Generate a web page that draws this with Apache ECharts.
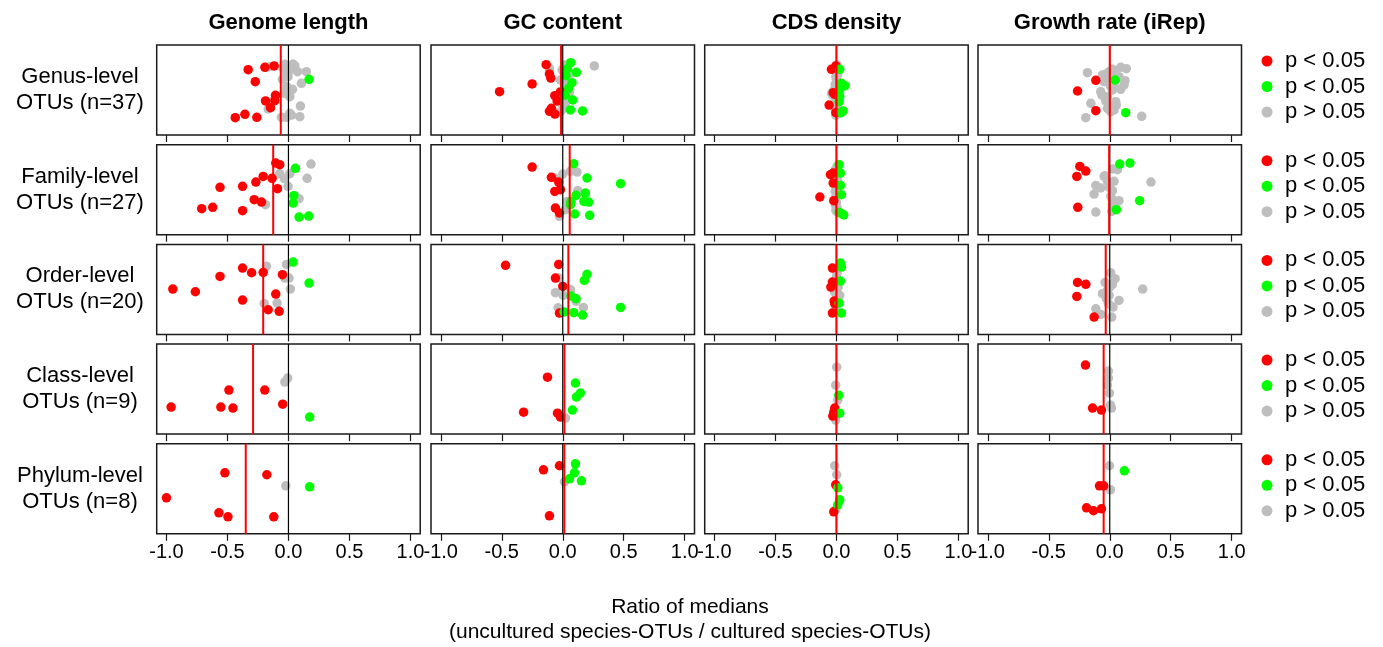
<!DOCTYPE html>
<html>
<head>
<meta charset="utf-8">
<script src="https://cdn.jsdelivr.net/npm/echarts@6/dist/echarts.min.js"></script>
<style>html,body{margin:0;padding:0;background:#fff;}#c{width:1383px;height:647px;}</style>
</head>
<body>
<div id="c"></div>
<script>
const columns = ['Genome length', 'GC content', 'CDS density', 'Growth rate (iRep)'];
const rowLabels = ['Genus-level\nOTUs (n=37)', 'Family-level\nOTUs (n=27)', 'Order-level\nOTUs (n=20)', 'Class-level\nOTUs (n=9)', 'Phylum-level\nOTUs (n=8)'];
const xTicks = [-1, -0.5, 0, 0.5, 1];
const legendLabels = ['p < 0.05', 'p < 0.05', 'p > 0.05'];
const xTitle = ['Ratio of medians', '(uncultured species-OTUs / cultured species-OTUs)'];

// medians (red vertical line) per row, per column
const medians = [
  [-0.063, -0.014, 0.0, 0.0],
  [-0.125, 0.057, 0.0, -0.005],
  [-0.207, 0.046, 0.0, -0.033],
  [-0.29, 0.014, 0.0, -0.05],
  [-0.35, 0.013, 0.0, -0.05]
];

// points: [ratio, jitter] ; each row array has 4 columns
const genusRed = [
  [[-0.33,0.726],[-0.193,0.752],[-0.117,0.767],[-0.272,0.593],[-0.106,0.441],[-0.188,0.378],[-0.112,0.381],[-0.147,0.304],[-0.436,0.193],[-0.357,0.23],[-0.259,0.196]],
  [[-0.136,0.781],[-0.109,0.678],[-0.098,0.633],[-0.251,0.567],[-0.518,0.481],[-0.019,0.478],[-0.065,0.437],[-0.046,0.378],[-0.093,0.296],[-0.109,0.263],[-0.065,0.233]],
  [[-0.041,0.73],[-0.005,0.767],[-0.014,0.452],[-0.027,0.47],[-0.06,0.333],[-0.005,0.248]],
  [[-0.114,0.607],[-0.264,0.489],[-0.114,0.27]]
];
const genusGreen = [
  [[0.169,0.619]],
  [[0.065,0.804],[0.038,0.737],[0.112,0.696],[0.027,0.659],[0.076,0.581],[0.049,0.519],[0.022,0.444],[0.082,0.389],[0.063,0.278],[0.163,0.267]],
  [[0.027,0.73],[0.041,0.574],[0.071,0.548],[0.027,0.5],[0.022,0.37],[0.054,0.267],[0.027,0.426],[0.038,0.248]],
  [[0.044,0.611],[0.131,0.248]]
];
const genusGray = [
  [[-0.03,0.785],[0.038,0.789],[0.052,0.767],[0.025,0.76],[0.011,0.722],[0.074,0.704],[0.147,0.704],[-0.016,0.685],[-0.049,0.619],[0.106,0.574],[-0.016,0.537],[0.033,0.507],[-0.016,0.481],[0.011,0.426],[-0.166,0.289],[0.098,0.322],[0.011,0.241],[-0.016,0.196],[-0.057,0.196],[0.093,0.204],[-0.153,0.759],[-0.044,0.741],[-0.003,0.648],[-0.03,0.463],[0.025,0.222]],
  [[-0.109,0.737],[0.016,0.778],[0.071,0.685],[0.259,0.767],[0.016,0.593],[0.027,0.556],[0.054,0.47],[0.008,0.296],[-0.019,0.259],[-0.005,0.722],[0.016,0.537],[0.035,0.5],[-0.005,0.333],[0.022,0.352],[0.008,0.63],[-0.019,0.611]],
  [[0.005,0.78],[0.01,0.7],[-0.005,0.65],[0.0,0.62],[0.005,0.6],[-0.01,0.56],[0.015,0.53],[-0.02,0.5],[-0.04,0.46],[-0.03,0.44],[0.01,0.42],[0.0,0.4],[0.02,0.38],[-0.01,0.35],[0.005,0.32],[-0.015,0.3],[0.01,0.28],[0.0,0.26],[0.02,0.24],[-0.005,0.22],[0.012,0.68],[-0.008,0.72],[0.015,0.45]],
  [[-0.183,0.693],[-0.06,0.667],[-0.033,0.674],[0.022,0.685],[0.049,0.667],[0.09,0.752],[0.136,0.737],[-0.005,0.704],[0.125,0.604],[0.117,0.556],[0.09,0.507],[0.022,0.5],[-0.074,0.481],[-0.065,0.444],[-0.033,0.378],[0.049,0.37],[-0.155,0.352],[-0.005,0.315],[0.035,0.278],[-0.019,0.296],[-0.196,0.193],[0.262,0.207],[0.016,0.611],[-0.033,0.63],[0.035,0.574],[0.008,0.537],[0.054,0.333],[0.008,0.259],[-0.046,0.593],[0.076,0.648],[0.022,0.73],[-0.019,0.426]]
];

const familyRed = [
  [[-0.104,0.796],[-0.071,0.778],[-0.207,0.648],[-0.134,0.626],[-0.267,0.585],[-0.376,0.537],[-0.561,0.526],[-0.09,0.511],[-0.281,0.389],[-0.221,0.363],[-0.711,0.289],[-0.621,0.304],[-0.376,0.267]],
  [[-0.251,0.752],[-0.093,0.637],[-0.033,0.585],[-0.019,0.5],[-0.065,0.481],[-0.06,0.296],[-0.027,0.241]],
  [[-0.049,0.667],[-0.027,0.685],[-0.136,0.419],[-0.022,0.378],[-0.027,0.574]],
  [[-0.245,0.759],[-0.196,0.707],[-0.27,0.648],[-0.262,0.304]]
];
const familyGreen = [
  [[0.057,0.737],[0.044,0.433],[0.038,0.352],[0.087,0.196],[0.166,0.207]],
  [[0.09,0.789],[0.199,0.63],[0.474,0.567],[0.185,0.463],[0.109,0.437],[0.068,0.37],[0.174,0.37],[0.213,0.363],[0.063,0.333],[0.098,0.23],[0.221,0.215]],
  [[0.022,0.778],[0.033,0.685],[0.033,0.548],[0.041,0.444],[0.041,0.233],[0.06,0.219],[0.022,0.248]],
  [[0.082,0.785],[0.166,0.796],[0.245,0.378],[0.054,0.278]]
];
const familyGray = [
  [[0.185,0.785],[-0.071,0.678],[0.011,0.678],[-0.033,0.622],[0.153,0.626],[-0.003,0.537],[0.054,0.433],[0.087,0.4],[-0.188,0.333]],
  [[0.0,0.674],[0.063,0.704],[0.117,0.696],[-0.065,0.63],[0.123,0.489],[0.035,0.37],[0.022,0.278],[-0.027,0.204],[0.049,0.352]],
  [[0.005,0.76],[-0.01,0.72],[0.0,0.65],[-0.015,0.62],[0.01,0.6],[-0.005,0.55],[0.0,0.52],[-0.01,0.48],[0.005,0.46],[-0.005,0.42],[0.0,0.36],[-0.01,0.33],[0.005,0.3],[-0.005,0.27],[0.01,0.25]],
  [[-0.038,0.656],[0.022,0.73],[0.063,0.722],[0.035,0.593],[-0.114,0.548],[-0.074,0.519],[-0.005,0.526],[0.022,0.489],[-0.128,0.452],[0.338,0.585],[0.035,0.378],[0.076,0.378],[0.022,0.333],[-0.114,0.252],[0.016,0.259],[0.049,0.296],[-0.019,0.593],[-0.046,0.648],[0.008,0.426]]
];

const orderRed = [
  [[-0.376,0.737],[-0.302,0.685],[-0.207,0.689],[-0.561,0.644],[-0.049,0.663],[-0.948,0.504],[-0.763,0.474],[-0.104,0.448],[-0.376,0.381],[-0.166,0.274],[-0.076,0.256]],
  [[-0.469,0.767],[-0.033,0.778],[-0.06,0.626],[0.0,0.533],[-0.027,0.237]],
  [[-0.033,0.737],[-0.033,0.581],[-0.046,0.526],[-0.019,0.37],[-0.014,0.341],[-0.033,0.237]],
  [[-0.264,0.578],[-0.196,0.556],[-0.27,0.422],[-0.128,0.193]]
];
const orderGreen = [
  [[0.038,0.804],[0.169,0.57]],
  [[0.199,0.667],[0.177,0.6],[0.068,0.426],[0.109,0.396],[0.474,0.3],[0.09,0.241],[0.163,0.215],[0.011,0.248]],
  [[0.033,0.793],[0.041,0.748],[0.033,0.593],[0.022,0.348],[0.041,0.237]],
  []
];
const orderGray = [
  [[-0.18,0.756],[-0.016,0.778],[-0.03,0.626],[0.005,0.626],[0.016,0.504],[-0.199,0.341],[-0.093,0.348]],
  [[-0.033,0.626],[0.065,0.496],[-0.06,0.463],[0.003,0.433],[0.109,0.367],[0.169,0.3],[-0.038,0.296]],
  [[0.005,0.674],[0.027,0.433],[0.0,0.637],[-0.014,0.47],[0.014,0.396],[-0.005,0.304],[-0.022,0.563],[0.014,0.526],[0.0,0.711]],
  [[0.008,0.685],[0.044,0.619],[-0.038,0.578],[0.022,0.556],[0.0,0.526],[0.27,0.504],[-0.06,0.452],[-0.005,0.433],[0.076,0.378],[-0.011,0.341],[0.027,0.304],[-0.114,0.285],[-0.074,0.222],[0.016,0.193],[-0.019,0.489],[-0.027,0.396]]
];

const classRed = [
  [[-0.962,0.3],[-0.554,0.3],[-0.455,0.289],[-0.488,0.489],[-0.194,0.489],[-0.047,0.333]],
  [[-0.125,0.633],[-0.321,0.244],[-0.043,0.233],[-0.019,0.189]],
  [[-0.014,0.289],[-0.03,0.2],[-0.022,0.244]],
  [[-0.199,0.767],[-0.141,0.289],[-0.068,0.267]]
];
const classGreen = [
  [[0.174,0.189]],
  [[0.104,0.567],[0.145,0.456],[0.112,0.411],[0.079,0.267]],
  [[0.019,0.433],[0.027,0.233]],
  []
];
const classGray = [
  [[-0.006,0.622],[-0.03,0.578]],
  [[0.022,0.178]],
  [[0.002,0.744],[-0.006,0.544],[0.011,0.378],[-0.006,0.156]],
  [[-0.011,0.7],[-0.011,0.622],[-0.002,0.456],[0.006,0.322],[0.014,0.289],[-0.019,0.544]]
];

const phylumRed = [
  [[-1.0,0.4],[-0.521,0.678],[-0.57,0.233],[-0.496,0.189],[-0.177,0.656],[-0.12,0.189]],
  [[-0.027,0.756],[-0.158,0.711],[-0.109,0.2]],
  [[-0.022,0.244],[-0.006,0.544]],
  [[-0.084,0.533],[-0.19,0.289],[-0.133,0.256],[-0.068,0.278],[-0.05,0.533]]
];
const phylumGreen = [
  [[0.174,0.522]],
  [[0.104,0.778],[0.096,0.678],[0.153,0.589],[0.055,0.611]],
  [[0.011,0.511],[0.027,0.378],[0.011,0.322]],
  [[0.12,0.7]]
];
const phylumGray = [
  [[-0.022,0.533]],
  [[0.014,0.578]],
  [[-0.014,0.756],[0.002,0.656],[-0.006,0.267]],
  [[-0.002,0.756],[0.006,0.489]]
];

const redRows = [genusRed, familyRed, orderRed, classRed, phylumRed];
const greenRows = [genusGreen, familyGreen, orderGreen, classGreen, phylumGreen];
const grayRows = [genusGray, familyGray, orderGray, classGray, phylumGray];

// ---- layout ----
const colLeft = [156.7, 431, 704.7, 978];
const rowTop = [45, 144.7, 244.4, 344.1, 443.8];
const gridW = 263.5, gridH = 90;
const FONT = '"Liberation Sans", Arial, sans-serif';
const COLORS = { red: '#FF0000', green: '#00FF00', gray: '#BEBEBE' };

const grids = [], xAxes = [], yAxes = [], series = [], graphics = [];
for (let r = 0; r < 5; r++) {
  for (let c = 0; c < 4; c++) {
    const i = r * 4 + c;
    grids.push({ left: colLeft[c], top: rowTop[r], width: gridW, height: gridH, show: true, borderColor: '#1a1a1a', borderWidth: 1.5, backgroundColor: 'transparent', containLabel: false });
    xAxes.push({
      type: 'value', gridIndex: i, min: -1.08, max: 1.08,
      axisLine: { show: false },
      splitLine: { show: false },
      axisTick: { show: true, inside: false, length: 7, customValues: xTicks, lineStyle: { color: '#1a1a1a', width: 1.2 } },
      axisLabel: { show: r === 4, customValues: xTicks, margin: 9, color: '#000', fontSize: 20, fontFamily: FONT, formatter: v => v.toFixed(1) }
    });
    yAxes.push({ type: 'value', gridIndex: i, min: 0, max: 1, show: false, splitLine: { show: false } });
    const base = { type: 'scatter', xAxisIndex: i, yAxisIndex: i, symbol: 'circle', symbolSize: 9.5, silent: true, animation: false };
    series.push(Object.assign({}, base, { data: grayRows[r][c], itemStyle: { color: COLORS.gray, opacity: 1 }, z: 2 }));
    series.push(Object.assign({}, base, { data: redRows[r][c], itemStyle: { color: COLORS.red, opacity: 1 }, z: 3 }));
    series.push(Object.assign({}, base, { data: greenRows[r][c], itemStyle: { color: COLORS.green, opacity: 1 }, z: 3 }));
    series.push({ type: 'line', xAxisIndex: i, yAxisIndex: i, data: [[0, 0], [0, 1]], symbol: 'none', lineStyle: { color: '#000', width: 1.2 }, z: 4, silent: true, animation: false });
    series.push({ type: 'line', xAxisIndex: i, yAxisIndex: i, data: [[medians[r][c], 0], [medians[r][c], 1]], symbol: 'none', lineStyle: { color: '#FF0000', width: 2 }, z: 5, silent: true, animation: false });
  }
  // row label
  graphics.push({ type: 'text', style: { text: rowLabels[r], x: 80, y: rowTop[r] + gridH / 2, align: 'center', verticalAlign: 'middle', font: '22px ' + FONT, fill: '#000', lineHeight: 26 } });
  // legend
  const legColors = [COLORS.red, COLORS.green, COLORS.gray];
  for (let k = 0; k < 3; k++) {
    const cy = rowTop[r] + 16 + k * 25.5;
    graphics.push({ type: 'circle', shape: { cx: 1267, cy: cy, r: 5.5 }, style: { fill: legColors[k] } });
    graphics.push({ type: 'text', style: { text: legendLabels[k], x: 1285, y: cy, align: 'left', verticalAlign: 'middle', font: '22px ' + FONT, fill: '#000' } });
  }
}
// column titles
for (let c = 0; c < 4; c++) {
  graphics.push({ type: 'text', style: { text: columns[c], x: colLeft[c] + gridW / 2, y: 23, align: 'center', verticalAlign: 'middle', font: 'bold 22px ' + FONT, fill: '#000' } });
}
// x-axis title
graphics.push({ type: 'text', style: { text: xTitle[0], x: 690, y: 607, align: 'center', verticalAlign: 'middle', font: '21px ' + FONT, fill: '#000' } });
graphics.push({ type: 'text', style: { text: xTitle[1], x: 690, y: 632, align: 'center', verticalAlign: 'middle', font: '21px ' + FONT, fill: '#000' } });

const chart = echarts.init(document.getElementById('c'), null, { renderer: 'canvas' });
chart.setOption({
  backgroundColor: '#fff',
  animation: false,
  grid: grids,
  xAxis: xAxes,
  yAxis: yAxes,
  series: series,
  graphic: { elements: graphics }
});
</script>
</body>
</html>
